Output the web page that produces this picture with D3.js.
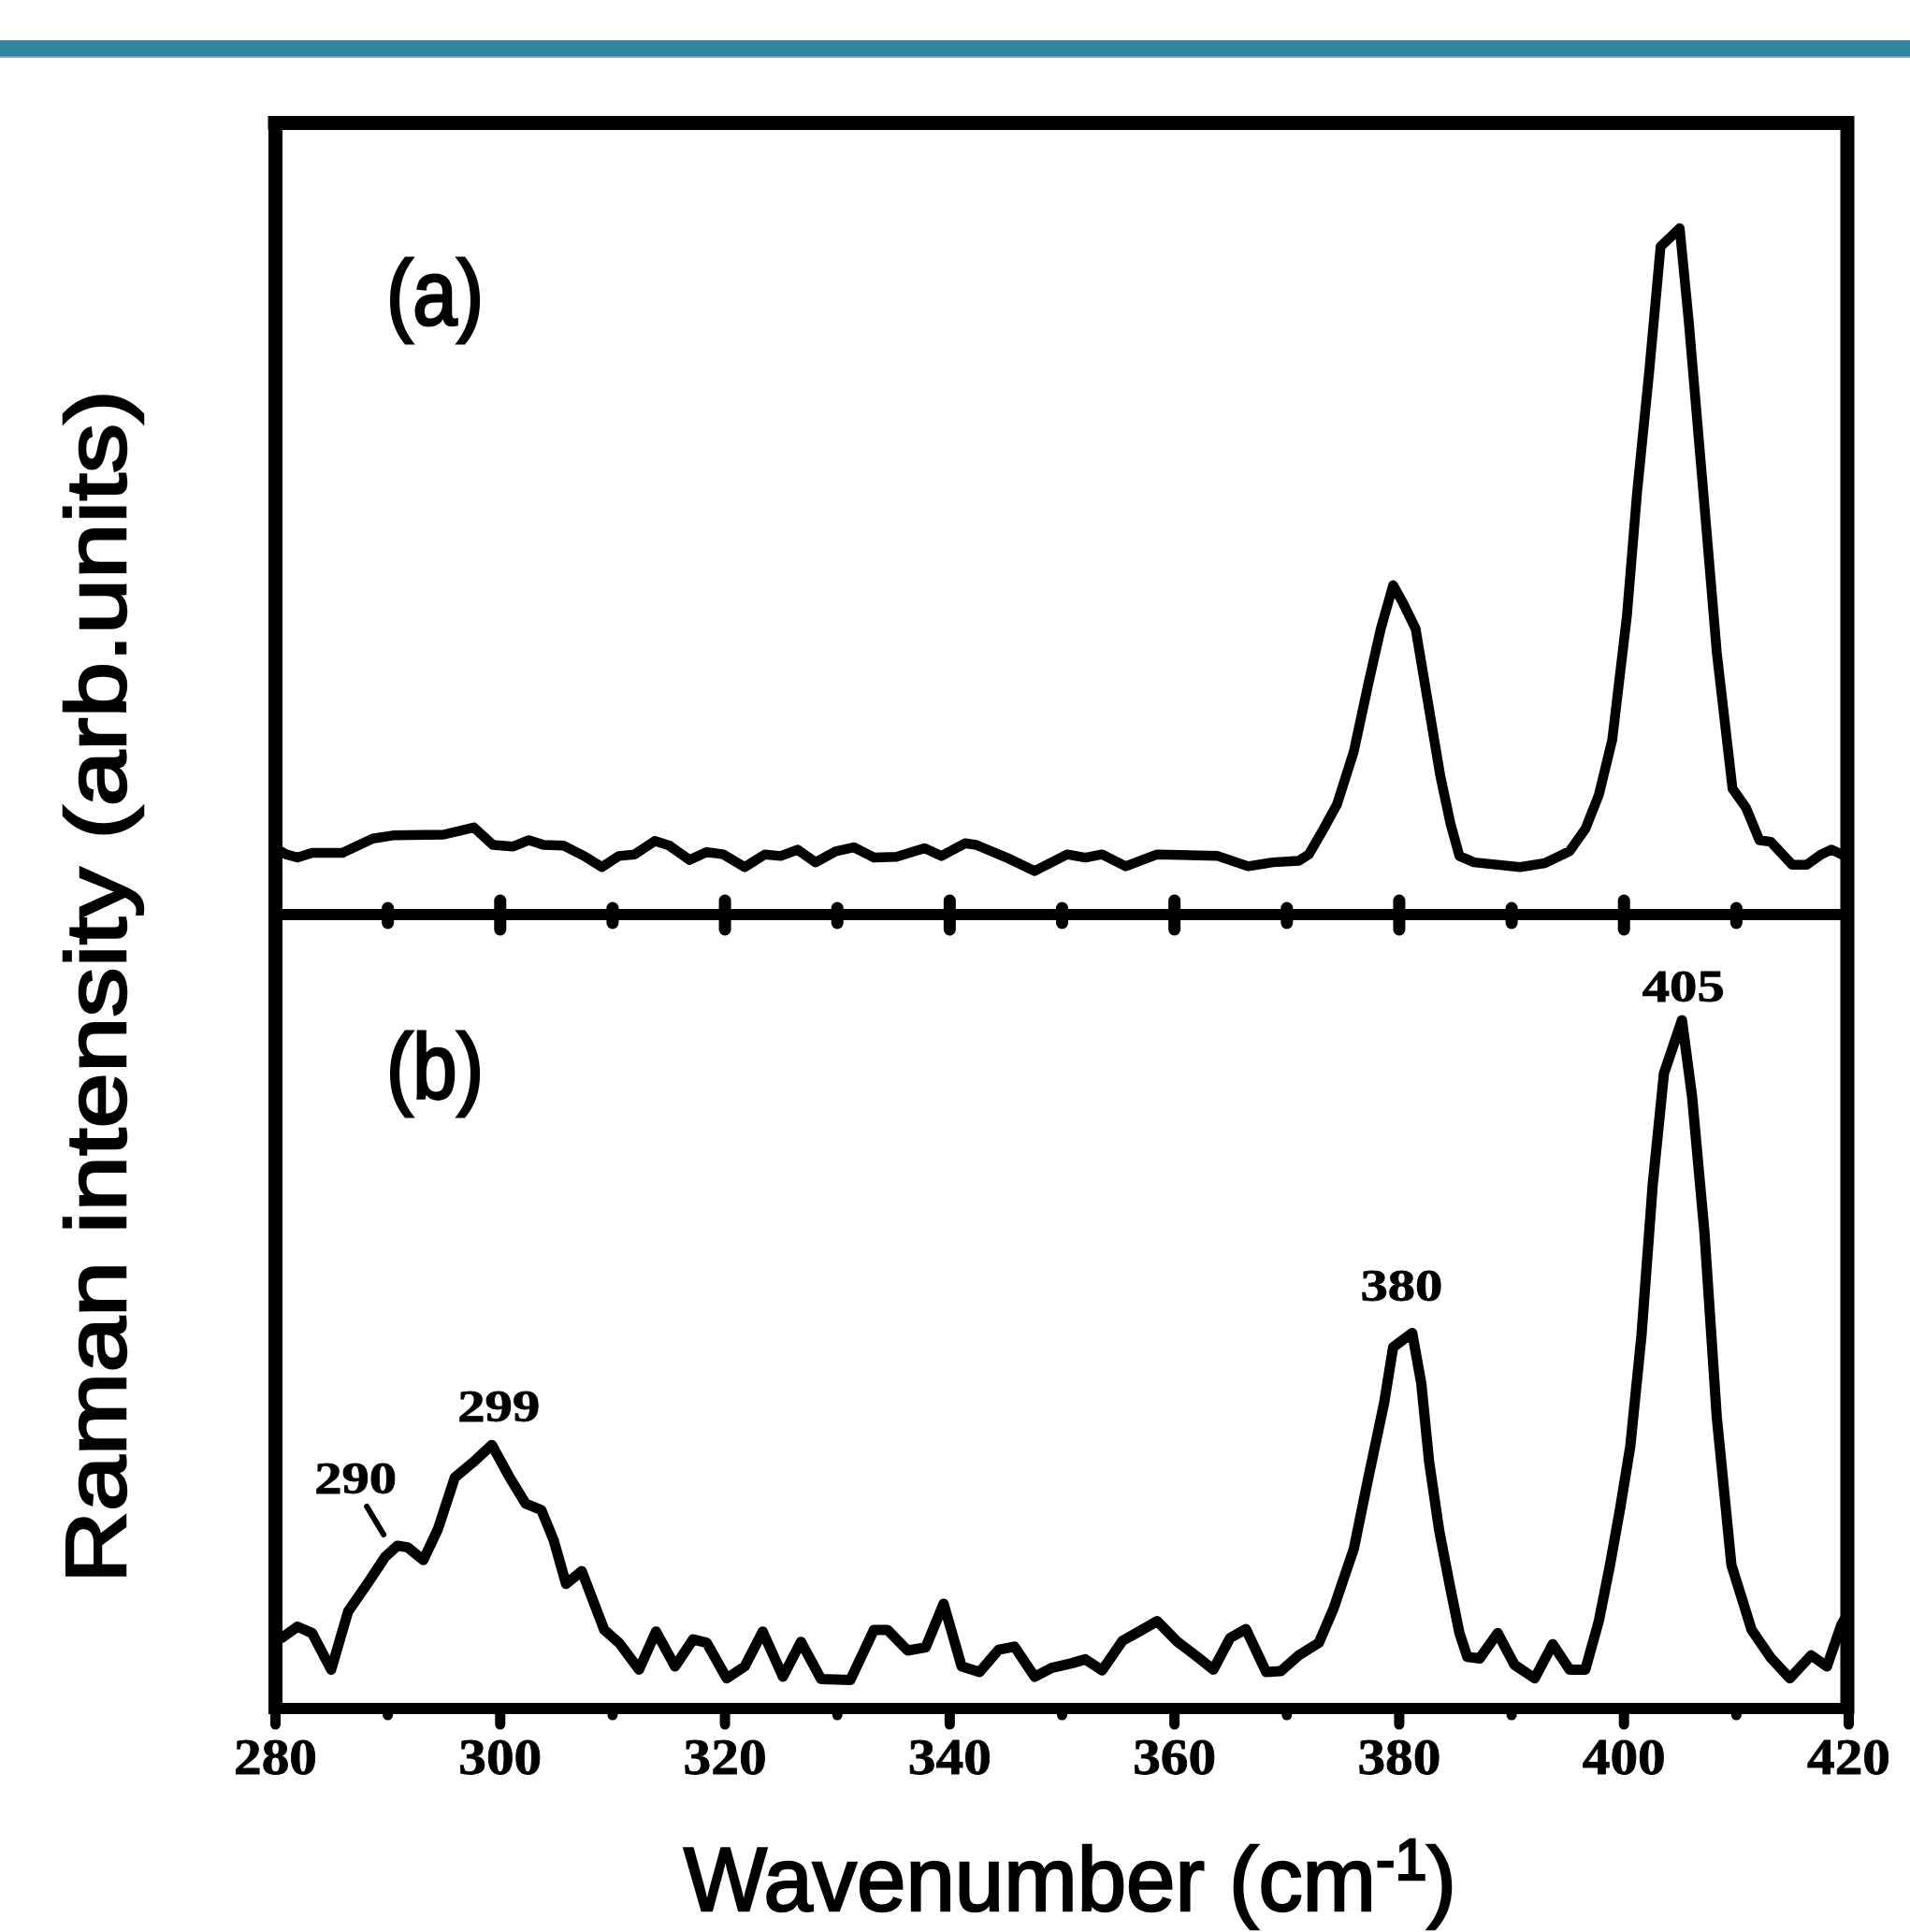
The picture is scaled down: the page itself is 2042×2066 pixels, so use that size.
<!DOCTYPE html>
<html>
<head>
<meta charset="utf-8">
<script src="https://cdn.jsdelivr.net/npm/d3@7"></script>
<style>
  html, body { margin: 0; padding: 0; background: #ffffff; }
  svg { display: block; }
</style>
</head>
<body>
<svg id="chart" width="2042" height="2066"></svg>
<script>
// ---------------- DATA ----------------
const waveA = [280.0, 281.0, 282.0, 283.3, 286.0, 288.7, 290.5, 295.0, 297.7, 299.4, 301.2, 302.6, 303.9, 305.7, 307.5, 309.1, 310.6, 312.0, 313.8, 315.1, 316.9, 318.4, 319.9, 321.8, 323.6, 325.0, 326.5, 328.1, 329.9, 331.5, 333.3, 335.3, 337.8, 339.3, 341.4, 342.4, 345.1, 347.6, 350.5, 352.1, 353.6, 355.7, 358.5, 363.9, 366.6, 368.8, 371.1, 372.0, 373.3, 374.5, 376.0, 377.3, 378.4, 379.5, 380.4, 381.5, 382.6, 383.7, 384.6, 385.4, 386.7, 390.8, 393.0, 395.2, 396.6, 397.8, 399.0, 400.3, 401.2, 402.3, 403.3, 404.2, 405.0, 405.8, 407.2, 408.3, 409.7, 410.9, 412.1, 413.1, 415.0, 416.3, 417.6, 418.5, 420.0];
const intensityA = [8.4, 7.6, 7.2, 7.8, 7.8, 9.6, 10.0, 10.1, 11.0, 8.8, 8.6, 9.4, 8.8, 8.7, 7.4, 6.0, 7.4, 7.6, 9.3, 8.7, 6.9, 7.9, 7.6, 6.0, 7.6, 7.4, 8.2, 6.6, 8.0, 8.5, 7.2, 7.3, 8.4, 7.4, 9.0, 8.8, 7.2, 5.5, 7.6, 7.2, 7.6, 6.1, 7.6, 7.4, 6.1, 6.6, 6.8, 7.6, 10.8, 13.9, 20.6, 29.2, 36.1, 41.6, 39.3, 36.1, 26.8, 17.5, 11.5, 7.4, 6.6, 6.0, 6.5, 8.0, 10.8, 15.1, 22.1, 37.7, 53.2, 68.8, 84.4, 85.6, 86.7, 75.0, 51.7, 33.1, 15.9, 13.5, 9.4, 9.2, 6.3, 6.3, 7.6, 8.2, 7.2];

const waveB = [280.0, 280.6, 282.0, 283.3, 285.0, 286.5, 288.3, 289.8, 290.9, 291.8, 293.2, 294.5, 296.0, 297.7, 299.3, 300.8, 302.3, 303.7, 304.8, 305.9, 307.3, 309.3, 310.6, 312.4, 313.9, 315.6, 317.2, 318.4, 320.2, 321.8, 323.4, 325.2, 326.8, 328.6, 331.2, 333.3, 334.5, 336.3, 337.9, 339.5, 341.1, 342.7, 344.4, 345.8, 347.6, 349.1, 350.9, 352.1, 353.6, 355.4, 356.9, 358.5, 360.3, 361.9, 363.5, 365.0, 366.4, 368.2, 369.5, 371.1, 372.9, 374.2, 376.0, 377.3, 378.7, 379.5, 381.2, 382.0, 382.7, 383.6, 384.5, 385.4, 386.1, 387.2, 388.8, 390.3, 392.1, 393.7, 395.2, 396.6, 397.8, 398.8, 399.7, 400.6, 401.6, 402.6, 403.6, 405.2, 406.1, 407.2, 408.3, 409.6, 411.4, 413.1, 414.8, 416.7, 418.1, 419.4, 420.0];
const intensityB = [8.6, 8.9, 10.3, 9.5, 4.9, 12.2, 15.9, 19.1, 20.5, 20.3, 18.7, 22.6, 29.1, 31.1, 33.2, 29.3, 25.8, 25.0, 21.2, 15.7, 17.3, 9.9, 8.3, 4.9, 9.7, 5.3, 8.7, 8.3, 3.8, 5.3, 9.7, 4.0, 8.4, 3.7, 3.6, 9.9, 9.9, 7.3, 7.7, 13.2, 5.3, 4.6, 7.4, 7.8, 4.0, 5.1, 5.7, 6.2, 4.8, 8.5, 9.7, 11.0, 8.4, 6.7, 4.9, 8.9, 10.0, 4.6, 4.7, 6.7, 8.3, 12.6, 20.1, 29.1, 38.5, 45.5, 47.3, 41.0, 31.1, 22.4, 15.8, 9.5, 6.5, 6.3, 9.5, 5.5, 3.8, 8.1, 4.9, 4.9, 11.0, 18.1, 25.2, 33.0, 47.0, 66.0, 80.0, 86.7, 77.1, 60.0, 36.7, 18.1, 9.9, 6.4, 3.8, 6.7, 5.3, 10.6, 12.0];

const majorTicks = [280, 300, 320, 340, 360, 380, 400, 420];
const minorTicks = [290, 310, 330, 350, 370, 390, 410];
const panelLabels = ["(a)", "(b)"];
const peakLabels = ["290", "299", "380", "405"];
const peakPositions = [290, 299, 380, 405];
const xTitleMain = "Wavenumber (cm";
const xTitleSup = "-1";
const xTitleEnd = ")";
const yTitle = "Raman intensity (arb.units)";

// ---------------- LAYOUT ----------------
const svg = d3.select("#chart");
const X0 = 294, X1 = 1976, YTOP = 131.5, YMID = 978, YBOT = 1827;

const x = d3.scaleLinear().domain([280, 420]).range([X0, X1]);
const yA = d3.scaleLinear().domain([0, 100]).range([YMID, YTOP]);
const yB = d3.scaleLinear().domain([0, 100]).range([YBOT, YMID]);

// teal band at top
svg.append("rect").attr("x", 0).attr("y", 43).attr("width", 2042).attr("height", 18).attr("fill", "#33869f");
svg.append("rect").attr("x", 0).attr("y", 60.5).attr("width", 2042).attr("height", 1.5).attr("fill", "#8dbfcd");

// clip for curves
svg.append("clipPath").attr("id", "plotClip")
  .append("rect").attr("x", X0).attr("y", YTOP).attr("width", X1 - X0).attr("height", YBOT - YTOP);

const lineA = d3.line().x((d, i) => x(waveA[i])).y((d, i) => yA(intensityA[i]));
const lineB = d3.line().x((d, i) => x(waveB[i])).y((d, i) => yB(intensityB[i]));

const curves = svg.append("g").attr("clip-path", "url(#plotClip)");
curves.append("path").attr("d", lineA(intensityA))
  .attr("fill", "none").attr("stroke", "#000").attr("stroke-width", 10.5)
  .attr("stroke-linejoin", "round").attr("stroke-linecap", "round");
curves.append("path").attr("d", lineB(intensityB))
  .attr("fill", "none").attr("stroke", "#000").attr("stroke-width", 11)
  .attr("stroke-linejoin", "round").attr("stroke-linecap", "round");

// frame
const frame = svg.append("g").attr("stroke", "#000").attr("fill", "none");
frame.append("line").attr("x1", X0 - 7.5).attr("x2", X1 + 6).attr("y1", YTOP).attr("y2", YTOP).attr("stroke-width", 15);
frame.append("line").attr("x1", X0 + 0.5).attr("x2", X0 + 0.5).attr("y1", YTOP - 7.5).attr("y2", YBOT + 6).attr("stroke-width", 15);
frame.append("line").attr("x1", X1 - 1).attr("x2", X1 - 1).attr("y1", YTOP - 7.5).attr("y2", YBOT + 6).attr("stroke-width", 15);
frame.append("line").attr("x1", X0 - 7).attr("x2", X1 + 6).attr("y1", YBOT).attr("y2", YBOT).attr("stroke-width", 12);
frame.append("line").attr("x1", X0).attr("x2", X1).attr("y1", YMID).attr("y2", YMID).attr("stroke-width", 12);

// middle axis ticks (both directions)
const midMajor = svg.append("g").attr("transform", `translate(0,${YMID})`)
  .call(d3.axisBottom(x).tickValues(majorTicks.filter(v => v > 280 && v < 420)).tickSize(0).tickFormat(""));
midMajor.select(".domain").remove();
midMajor.selectAll(".tick line").attr("y1", -15).attr("y2", 16)
  .attr("stroke", "#000").attr("stroke-width", 13).attr("stroke-linecap", "round");

const midMinor = svg.append("g").attr("transform", `translate(0,${YMID})`)
  .call(d3.axisBottom(x).tickValues(minorTicks).tickSize(0).tickFormat(""));
midMinor.select(".domain").remove();
midMinor.selectAll(".tick line").attr("y1", -7).attr("y2", 9)
  .attr("stroke", "#000").attr("stroke-width", 13).attr("stroke-linecap", "round");

// bottom axis
const botMajor = svg.append("g").attr("transform", `translate(0,${YBOT})`)
  .call(d3.axisBottom(x).tickValues(majorTicks).tickSize(17).tickFormat(d3.format("d")));
botMajor.select(".domain").remove();
botMajor.selectAll(".tick line").attr("stroke", "#000").attr("stroke-width", 11).attr("stroke-linecap", "round");
botMajor.selectAll(".tick text")
  .attr("y", 70).attr("dy", 0)
  .attr("fill", "#000")
  .attr("stroke", "#000").attr("stroke-width", 0.8)
  .attr("font-family", "'Liberation Serif', 'Times New Roman', serif")
  .attr("font-weight", "bold").attr("font-size", 55)
  .attr("textLength", 89).attr("lengthAdjust", "spacingAndGlyphs");

const botMinor = svg.append("g").attr("transform", `translate(0,${YBOT})`)
  .call(d3.axisBottom(x).tickValues(minorTicks).tickSize(7).tickFormat(""));
botMinor.select(".domain").remove();
botMinor.selectAll(".tick line").attr("stroke", "#000").attr("stroke-width", 11).attr("stroke-linecap", "round");

// panel labels
const panelY = [347, 1174];
panelLabels.forEach((t, i) => {
  svg.append("text").attr("x", 413).attr("y", panelY[i])
    .attr("font-family", "'Liberation Sans', Arial, sans-serif")
    .attr("font-size", 98).attr("fill", "#000")
    .attr("stroke", "#000").attr("stroke-width", 3)
    .attr("textLength", 104).attr("lengthAdjust", "spacingAndGlyphs")
    .text(t);
});

// peak annotations (panel b)
const peakDx = [-34, 11, 3, 4];
const peakBase = [1597, 1520, 1391, 1071];
peakLabels.forEach((t, i) => {
  svg.append("text")
    .attr("x", x(peakPositions[i]) + peakDx[i]).attr("y", peakBase[i])
    .attr("text-anchor", "middle")
    .attr("font-family", "'Liberation Serif', 'Times New Roman', serif")
    .attr("font-weight", "bold").attr("font-size", 48).attr("fill", "#000")
    .attr("stroke", "#000").attr("stroke-width", 0.8)
    .attr("textLength", 88).attr("lengthAdjust", "spacingAndGlyphs")
    .text(t);
});
// leader line for 290
svg.append("line")
  .attr("x1", x(290) - 22).attr("y1", 1611)
  .attr("x2", x(290) - 4).attr("y2", 1641)
  .attr("stroke", "#000").attr("stroke-width", 6).attr("stroke-linecap", "round");

// x title
const xg = svg.append("g");
const xt = xg.append("text")
  .attr("x", 0).attr("y", 0)
  .attr("font-family", "'Liberation Sans', Arial, sans-serif")
  .attr("font-size", 97).attr("fill", "#000")
  .attr("stroke", "#000").attr("stroke-width", 2.5);
xt.append("tspan").text(xTitleMain);
xt.append("tspan").attr("font-size", 63).attr("dy", -33).text(xTitleSup);
xt.append("tspan").attr("dy", 33).text(xTitleEnd);
const xbb = xt.node().getBBox();
xg.attr("transform", `translate(731,2043) scale(${826 / xbb.width},1)`);

// y title
const yg = svg.append("g");
const yt = yg.append("text")
  .attr("x", 0).attr("y", 0)
  .attr("font-family", "'Liberation Sans', Arial, sans-serif")
  .attr("font-size", 91).attr("fill", "#000")
  .attr("stroke", "#000").attr("stroke-width", 2.5)
  .text(yTitle);
const ybb = yt.node().getBBox();
yg.attr("transform", `translate(134,1693) rotate(-90) scale(${1276 / ybb.width},1)`);
</script>
</body>
</html>
